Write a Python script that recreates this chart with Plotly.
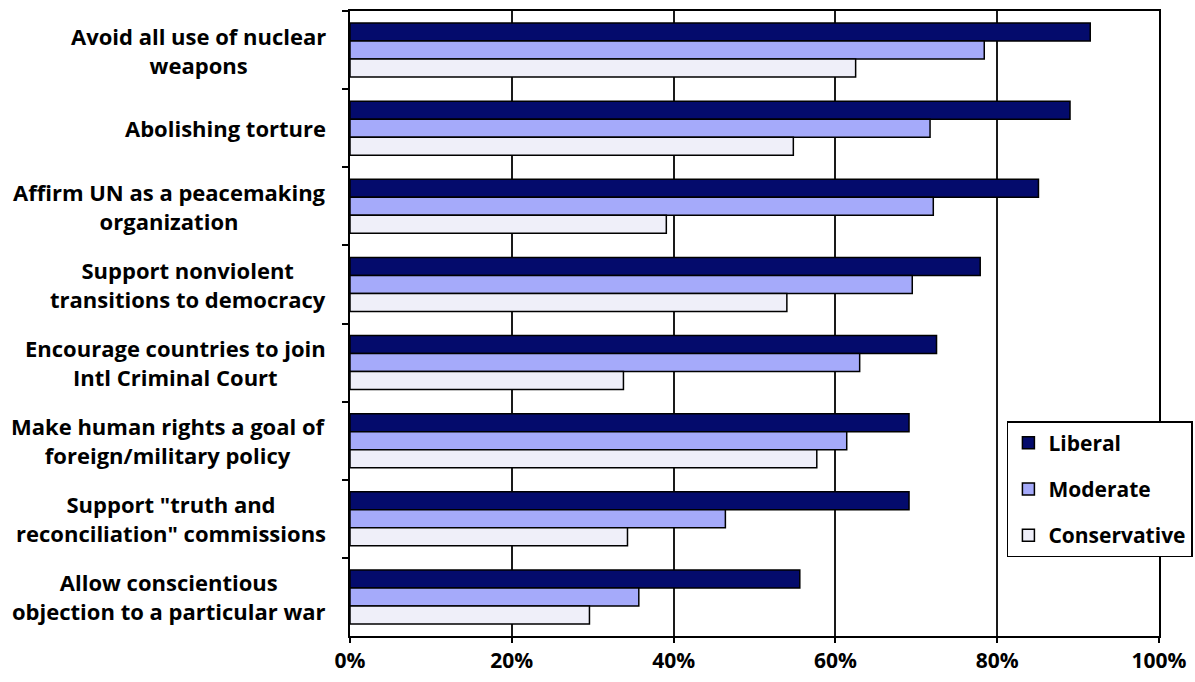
import plotly.graph_objects as go

# Survey items, listed top to bottom
categories = [
    "Avoid all use of nuclear<br>weapons",
    "Abolishing torture",
    "Affirm UN as a peacemaking<br>organization",
    "Support nonviolent<br>transitions to democracy",
    "Encourage countries to join<br>Intl Criminal Court",
    "Make human rights a goal of<br>foreign/military policy",
    "Support \"truth and<br>reconciliation\" commissions",
    "Allow conscientious<br>objection to a particular war",
]

# Share of respondents in support (%)
liberal = [91.5, 89.0, 85.1, 77.9, 72.5, 69.1, 69.1, 55.6]
moderate = [78.4, 71.7, 72.1, 69.5, 63.0, 61.4, 46.4, 35.7]
conservative = [62.5, 54.8, 39.1, 54.0, 33.8, 57.7, 34.3, 29.6]

x_ticks = [0, 20, 40, 60, 80, 100]
x_tick_labels = ["0%", "20%", "40%", "60%", "80%", "100%"]

series = [
    ("Liberal", liberal, "#040B6C"),
    ("Moderate", moderate, "#A5AAFA"),
    ("Conservative", conservative, "#EFEFF9"),
]

FONT = "'Open Sans', Lato, sans-serif"
SIZE = 22

fig = go.Figure()
for i, (name, vals, color) in enumerate(series):
    fig.add_trace(go.Bar(
        y=categories,
        x=vals,
        name=name,
        orientation="h",
        legendgroup=f"g{i}",
        marker=dict(color=color, line=dict(color="#000000", width=1.5)),
        hoverinfo="x+name",
    ))

# Category labels drawn as centred multi-line annotations
for cat in categories:
    fig.add_annotation(
        x=0, xref="paper", xanchor="right", xshift=-22,
        y=cat, yref="y", yanchor="middle",
        text=cat, showarrow=False, align="center",
        font=dict(family=FONT, size=SIZE, color="#000000", weight="bold"),
    )

fig.update_layout(
    width=1195, height=682,
    margin=dict(l=350, r=36, t=11, b=46, autoexpand=False),
    paper_bgcolor="#FFFFFF",
    plot_bgcolor="#FFFFFF",
    barmode="group",
    bargap=0.31,
    bargroupgap=0,
    font=dict(family=FONT, size=SIZE, color="#000000"),
    legend=dict(
        x=0.812, y=0.344, xanchor="left", yanchor="top",
        bgcolor="#FFFFFF", bordercolor="#000000", borderwidth=1.5,
        font=dict(family=FONT, size=21, color="#000000", weight="bold"),
        traceorder="grouped", tracegroupgap=16,
        itemwidth=30,
    ),
    showlegend=True,
)

fig.update_xaxes(
    range=[0, 100],
    tickvals=x_ticks,
    ticktext=x_tick_labels,
    tickfont=dict(family=FONT, size=21, color="#000000", weight="bold"),
    showgrid=True, gridcolor="#1A1A1A", gridwidth=1.5,
    showline=True, linecolor="#000000", linewidth=1.5, mirror=True,
    ticks="outside", ticklen=5, tickwidth=1.5, tickcolor="#000000",
    zeroline=False, fixedrange=True, automargin=False,
)
fig.update_yaxes(
    categoryorder="array", categoryarray=categories,
    autorange="reversed",
    showticklabels=False,
    tickson="boundaries",
    ticks="outside", ticklen=6, tickwidth=1.5, tickcolor="#000000",
    showgrid=False,
    showline=True, linecolor="#000000", linewidth=1.5, mirror=True,
    fixedrange=True, automargin=False,
)

fig.write_html("out.html")
